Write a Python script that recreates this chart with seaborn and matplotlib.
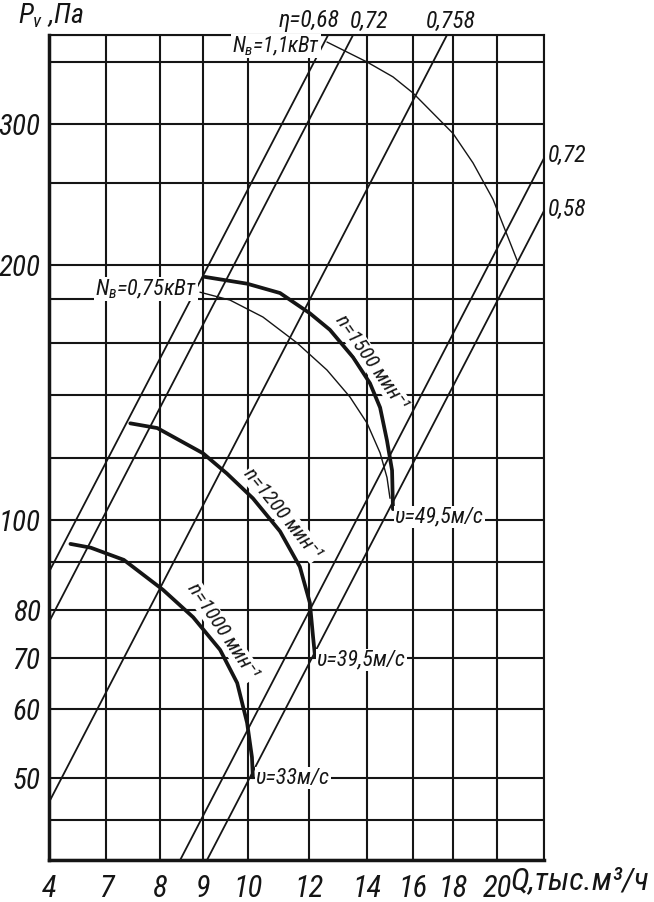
import numpy as np
import pandas as pd
import seaborn as sns
import matplotlib.pyplot as plt
from matplotlib import font_manager
from matplotlib.ticker import NullFormatter

# axis values printed on the chart
q_ticks = [4, 7, 8, 9, 10, 12, 14, 16, 18, 20, 22]
q_labels = ['4', '7', '8', '9', '10', '12', '14', '16', '18', '20', '']
p_major = [50, 60, 70, 80, 100, 200, 300]
p_minor = [40, 45, 90, 120, 140, 160, 180, 250, 350, 375]

# fan curves P(Q), n = 1500 / 1200 / 1000 min^-1
q_1500 = [9.04, 9.98, 11.05, 12.03, 12.72, 13.52, 14.13, 14.57, 14.87, 15.09, 15.13]
p_1500 = [193, 189, 183.5, 173.5, 166, 154.5, 144.5, 136, 125.5, 116, 103.5]
q_1200 = [7.45, 7.95, 9.0, 9.53, 10.16, 11.05, 11.70, 12.03, 12.14, 12.21]
p_1200 = [131, 129.5, 121.5, 115, 107, 97.3, 89, 81.5, 74.4, 70.2]
q_1000 = [5.13, 6.2, 7.33, 8.07, 8.77, 9.38, 9.76, 9.98, 10.13, 10.16]
p_1000 = [94.3, 93.4, 90.5, 84.2, 78.5, 71.7, 65.1, 58, 53, 50.1]

# power lines Nв
q_n075 = [8.93, 9.6, 10.49, 11.61, 12.62, 13.41, 14.0, 14.57, 14.87, 15.0]
p_n075 = [184, 179.5, 171.8, 160, 149.6, 139.4, 131.1, 121.6, 113.7, 107]
q_n11 = [12.62, 14.0, 15.13, 16.0, 18.0, 18.91, 19.82, 20.85]
p_n11 = [368.5, 350, 338, 325, 292, 267, 240, 203]

# efficiency lines (start / end)
eta_labels = ['η=0,68', '0,72', '0,758', '0,72', '0,58']
eta_q0 = [4, 4, 4, 8.47, 9.09]
eta_p0 = [87.9, 77.5, 47.1, 40, 40]
eta_q1 = [12.66, 13.52, 17.7, 22, 22]
eta_p1 = [375, 375, 375, 271, 233]

# where the curve labels sit on each curve
lab_q = [13.8, 10.8, 9.2]
lab_p = [149.5, 99.5, 74.0]

# grid of the drawing is hand made -> piecewise scales
x_pos = [49, 106, 160, 203, 248, 309, 367, 413, 453, 497, 544]
y_vals = sorted(p_major + p_minor)
y_pos = [0, 40, 82, 151, 202, 250, 298, 340, 402, 465, 517, 561, 595, 677, 736, 798, 825]


def piecewise(a, b):
    a = np.asarray(a, float)
    b = np.asarray(b, float)

    def f(v):
        v = np.asarray(v, float)
        out = np.interp(v, a, b)
        out = np.where(v < a[0], b[0] + (v - a[0]) * (b[1] - b[0]) / (a[1] - a[0]), out)
        out = np.where(v > a[-1], b[-1] + (v - a[-1]) * (b[-1] - b[-2]) / (a[-1] - a[-2]), out)
        return out
    return f


# narrow italic font, like the drawing lettering
fonts = font_manager.fontManager.ttflist
fam, stretch = 'Roboto', 'normal'
narrow = ['condensed', 'semi-condensed', 'extra-condensed']
for name in ['Liberation Sans Narrow', 'Roboto Condensed', 'Open Sans Condensed', 'DejaVu Sans',
             'Roboto', 'Noto Sans', 'Open Sans']:
    hit = [f for f in fonts if f.name == name and (f.stretch in narrow or 'Narrow' in name
                                                   or 'Condensed' in name)]
    if hit:
        fam = name
        stretch = hit[0].stretch if hit[0].stretch in narrow else 'normal'
        break
k = 1.0 if (stretch != 'normal' or 'Narrow' in fam or 'Condensed' in fam) else 0.85

sns.set_theme(style='white')
plt.rcParams['font.family'] = [fam, 'DejaVu Sans']
plt.rcParams['font.style'] = 'italic'
plt.rcParams['font.stretch'] = stretch
plt.rcParams['mathtext.fontset'] = 'custom'
plt.rcParams['mathtext.it'] = f'{fam}:style=italic:stretch={stretch}'
plt.rcParams['mathtext.rm'] = f'{fam}:style=italic:stretch={stretch}'

ink = '#151515'
fig = plt.figure(figsize=(6.54, 9.02), dpi=100)
ax = fig.add_axes([0.0749, 0.0466, 0.7569, 0.9146])

curves = pd.DataFrame({
    'q': q_1500 + q_1200 + q_1000,
    'p': p_1500 + p_1200 + p_1000,
    'n': ['1500'] * len(q_1500) + ['1200'] * len(q_1200) + ['1000'] * len(q_1000),
})
for n, d in curves.groupby('n'):
    sns.lineplot(data=d, x='q', y='p', sort=False, estimator=None, color=ink, lw=2.7, ax=ax, zorder=4)

sns.lineplot(x=q_n075, y=p_n075, sort=False, estimator=None, color=ink, lw=1.0, ax=ax, zorder=3)
sns.lineplot(x=q_n11, y=p_n11, sort=False, estimator=None, color=ink, lw=1.0, ax=ax, zorder=3)

for i in range(len(eta_labels)):
    sns.lineplot(x=[eta_q0[i], eta_q1[i]], y=[eta_p0[i], eta_p1[i]], sort=False,
                 estimator=None, color=ink, lw=1.3, ax=ax, zorder=3)

ax.set_xscale('function', functions=(piecewise(q_ticks, x_pos), piecewise(x_pos, q_ticks)))
ax.set_yscale('function', functions=(piecewise(y_vals, y_pos), piecewise(y_pos, y_vals)))
ax.set_xlim(4, 22)
ax.set_ylim(40, 375)

ax.set_xticks(q_ticks, labels=q_labels)
ax.set_yticks(p_major, labels=[str(v) for v in p_major])
ax.set_yticks(p_minor, minor=True)
ax.yaxis.set_minor_formatter(NullFormatter())
ax.tick_params(axis='x', which='major', direction='out', length=9, width=1.8, color=ink,
               labelsize=22 * k, pad=1, labelcolor=ink)
ax.tick_params(axis='y', which='major', direction='out', length=5, width=1.8, color=ink,
               labelsize=21 * k, pad=1, labelcolor=ink)
ax.tick_params(axis='y', which='minor', length=0)
ax.grid(True, which='both', color=ink, lw=1.5)
ax.set_xlabel('')
ax.set_ylabel('')
for side in ['left', 'bottom']:
    ax.spines[side].set_linewidth(2.5)
for side in ['top', 'right']:
    ax.spines[side].set_linewidth(1.5)
for s in ax.spines.values():
    s.set_color(ink)
    s.set_visible(True)

wb = dict(facecolor='white', edgecolor='none', pad=0.5)

# efficiency labels
eta_off = [(12, 14, 'right'), (-3, 13, 'left'), (4, 13, 'center'), (4, 3, 'left'), (4, 1, 'left')]
for i, lab in enumerate(eta_labels):
    dx, dy, ha = eta_off[i]
    ax.annotate(lab, xy=(eta_q1[i], eta_p1[i]), xytext=(dx, dy),
                textcoords='offset pixels', ha=ha, va='center', fontsize=17 * k, color=ink,
                annotation_clip=False)

ax.annotate(r'$N_{в}$=1,1кВт', xy=(q_n11[0], p_n11[0]), xytext=(-7, -4), textcoords='offset pixels',
            ha='right', va='center', fontsize=15.5 * k, color=ink, bbox=wb, zorder=6)
ax.annotate(r'$N_{в}$=0,75кВт', xy=(q_n075[0], p_n075[0]), xytext=(-3, 3), textcoords='offset pixels',
            ha='right', va='center', fontsize=16 * k, color=ink, bbox=wb, zorder=6)

ends = [(q_1500[-1], p_1500[-1], 'υ=49,5м/с', (2, -8)),
        (q_1200[-1], p_1200[-1], 'υ=39,5м/с', (2, -3)),
        (q_1000[-1], p_1000[-1], 'υ=33м/с', (3, -1))]
for q, p, lab, off in ends:
    ax.annotate(lab, xy=(q, p), xytext=off, textcoords='offset pixels', ha='left', va='center',
                fontsize=16 * k, color=ink, bbox=wb, zorder=6)

n_text = ['n=1500 мин⁻¹', 'n=1200 мин⁻¹', 'n=1000 мин⁻¹']
n_rot = [-55, -51, -56]
for i in range(3):
    a = np.deg2rad(-n_rot[i])
    d = 13
    ax.annotate(n_text[i], xy=(lab_q[i], lab_p[i]), xytext=(d * np.sin(a), d * np.cos(a)),
                textcoords='offset pixels', rotation=n_rot[i], rotation_mode='anchor',
                ha='center', va='center', fontsize=15 * k, color=ink, bbox=wb, zorder=6)

fig.text(0.028, 0.982, r'$P_v$ ,Па', fontsize=20 * k, color=ink, ha='left', va='center')
fig.text(0.781, 0.024, 'Q,тыс.м³/ч', fontsize=23 * k, color=ink, ha='left', va='center')

fig.savefig('out.png', dpi=100, facecolor='white')
